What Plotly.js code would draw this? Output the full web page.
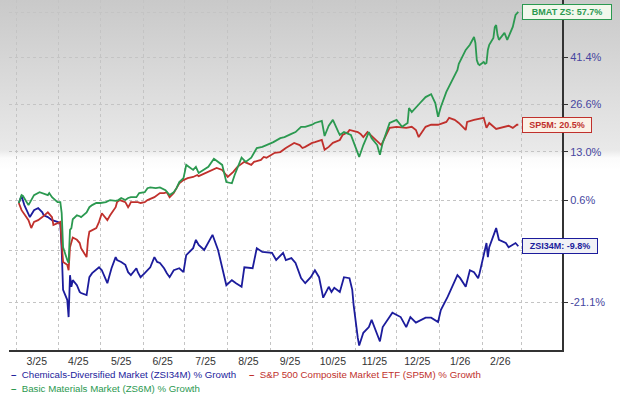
<!DOCTYPE html>
<html>
<head>
<meta charset="utf-8">
<script src="https://cdn.plot.ly/plotly-3.0.1.min.js"></script>
<style>
  html, body { margin: 0; padding: 0; background: #ffffff; }
  #chart {
    width: 620px; height: 397px;
    background: linear-gradient(to bottom, #c9c9c9 0px, #e9e9e9 150px, #fbfbfb 158px, #ffffff 170px);
  }
</style>
</head>
<body>
<div id="chart"></div>
<script>
// ---------------- data (percent growth) ----------------
const seriesNames = [
  'Chemicals-Diversified Market (ZSI34M) % Growth',
  'S&P 500 Composite Market ETF (SP5M) % Growth',
  'Basic Materials Market (ZS6M) % Growth'
];
const endLabels = ['ZSI34M: -9.8%', 'SP5M: 20.5%', 'BMAT ZS: 57.7%'];

const chemDates = ['2025-03-03','2025-03-05','2025-03-07','2025-03-11','2025-03-14','2025-03-17','2025-03-20','2025-03-21','2025-03-24','2025-03-27','2025-03-31','2025-04-02','2025-04-03','2025-04-04','2025-04-07','2025-04-08','2025-04-09','2025-04-10','2025-04-11','2025-04-14','2025-04-16','2025-04-17','2025-04-21','2025-04-22','2025-04-23','2025-04-25','2025-04-30','2025-05-02','2025-05-05','2025-05-06','2025-05-09','2025-05-12','2025-05-13','2025-05-16','2025-05-19','2025-05-21','2025-05-23','2025-05-27','2025-05-28','2025-05-30','2025-06-02','2025-06-04','2025-06-06','2025-06-09','2025-06-11','2025-06-13','2025-06-16','2025-06-18','2025-06-20','2025-06-23','2025-06-27','2025-06-30','2025-07-02','2025-07-07','2025-07-09','2025-07-11','2025-07-15','2025-07-21','2025-07-24','2025-07-25','2025-07-31','2025-08-04','2025-08-07','2025-08-11','2025-08-13','2025-08-19','2025-08-22','2025-08-26','2025-09-02','2025-09-05','2025-09-10','2025-09-12','2025-09-16','2025-09-19','2025-09-23','2025-09-26','2025-09-30','2025-10-03','2025-10-06','2025-10-09','2025-10-13','2025-10-15','2025-10-17','2025-10-21','2025-10-24','2025-10-28','2025-10-30','2025-10-31','2025-11-03','2025-11-04','2025-11-07','2025-11-11','2025-11-13','2025-11-17','2025-11-19','2025-11-21','2025-11-26','2025-11-28','2025-12-04','2025-12-08','2025-12-11','2025-12-15','2025-12-22','2025-12-26','2025-12-31','2026-01-02','2026-01-07','2026-01-12','2026-01-14','2026-01-16','2026-01-20','2026-01-23','2026-01-26','2026-01-29','2026-01-30','2026-02-04','2026-02-05','2026-02-06','2026-02-11','2026-02-13','2026-02-18','2026-02-20','2026-02-25','2026-02-27'];
const chemGrowth = [0.0,1.7,-0.5,-3.3,-1.7,-1.2,-2.2,-2.9,-3.3,-4.0,-4.4,-4.7,-10.6,-18.7,-20.6,-23.8,-15.8,-18.1,-16.8,-17.8,-19.1,-19.3,-19.7,-18.1,-16.2,-15.4,-14.2,-14.8,-16.8,-17.4,-14.4,-12.1,-12.7,-13.1,-13.7,-15.2,-15.8,-14.4,-15.2,-16.2,-15.4,-14.8,-14.2,-12.1,-13.1,-13.3,-14.4,-15.4,-16.2,-14.8,-14.4,-15.2,-11.7,-10.2,-8.4,-9.5,-10.6,-7.3,-9.5,-10.6,-17.8,-16.8,-17.4,-18.1,-14.2,-14.4,-10.2,-11.0,-11.2,-12.7,-11.2,-12.7,-12.3,-13.3,-16.4,-17.4,-16.2,-14.8,-16.2,-20.2,-18.1,-19.1,-18.3,-19.1,-16.2,-16.4,-18.7,-21.6,-27.5,-28.8,-26.6,-25.6,-24.3,-27.0,-28.1,-25.6,-23.8,-23.0,-23.8,-25.6,-23.8,-24.8,-23.9,-23.9,-24.7,-22.5,-20.0,-16.8,-15.8,-16.4,-18.1,-14.8,-15.2,-16.4,-15.4,-9.1,-12.1,-10.0,-5.8,-8.4,-9.1,-10.0,-9.1,-9.8];

const spDates = ['2025-03-03','2025-03-05','2025-03-10','2025-03-12','2025-03-14','2025-03-17','2025-03-20','2025-03-24','2025-03-27','2025-03-28','2025-03-31','2025-04-02','2025-04-03','2025-04-04','2025-04-07','2025-04-08','2025-04-09','2025-04-10','2025-04-11','2025-04-14','2025-04-16','2025-04-17','2025-04-21','2025-04-22','2025-04-23','2025-04-28','2025-04-30','2025-05-02','2025-05-06','2025-05-08','2025-05-12','2025-05-13','2025-05-15','2025-05-19','2025-05-21','2025-05-22','2025-05-23','2025-05-28','2025-05-30','2025-06-02','2025-06-04','2025-06-09','2025-06-11','2025-06-13','2025-06-16','2025-06-18','2025-06-20','2025-06-23','2025-06-25','2025-06-27','2025-06-30','2025-07-03','2025-07-07','2025-07-10','2025-07-11','2025-07-18','2025-07-24','2025-07-28','2025-08-01','2025-08-05','2025-08-08','2025-08-13','2025-08-18','2025-08-20','2025-08-25','2025-08-27','2025-08-29','2025-09-04','2025-09-08','2025-09-12','2025-09-18','2025-09-22','2025-09-24','2025-09-26','2025-10-01','2025-10-03','2025-10-08','2025-10-10','2025-10-13','2025-10-16','2025-10-21','2025-10-23','2025-10-27','2025-10-28','2025-11-03','2025-11-05','2025-11-07','2025-11-10','2025-11-13','2025-11-17','2025-11-20','2025-11-21','2025-11-26','2025-12-01','2025-12-08','2025-12-12','2025-12-15','2025-12-17','2025-12-22','2025-12-26','2025-12-31','2026-01-06','2026-01-08','2026-01-12','2026-01-15','2026-01-20','2026-01-21','2026-01-26','2026-01-29','2026-02-02','2026-02-04','2026-02-06','2026-02-11','2026-02-17','2026-02-20','2026-02-23','2026-02-26','2026-02-27'];
const spGrowth = [0.0,-1.7,-4.0,-5.8,-4.4,-4.0,-3.3,-2.2,-3.3,-5.1,-4.7,-4.4,-9.1,-13.1,-13.7,-14.8,-10.0,-8.8,-7.9,-8.4,-9.1,-10.2,-12.1,-8.4,-6.6,-5.8,-4.4,-2.4,-4.0,-2.9,-1.0,0.2,0.7,0.2,-1.0,-0.5,0.2,0.2,0.0,0.2,0.7,1.4,1.9,2.4,2.4,2.6,1.4,2.4,3.6,4.8,5.6,6.1,6.4,6.9,6.6,7.7,8.7,8.2,6.4,7.7,9.0,10.3,9.5,10.3,10.8,11.6,11.4,12.7,12.9,14.0,15.4,14.8,14.0,14.3,15.4,15.6,16.2,13.5,14.3,15.4,16.2,17.6,18.4,19.0,18.4,17.9,17.0,18.4,17.3,15.6,14.8,15.6,19.6,19.9,19.6,19.9,19.0,17.0,19.9,20.5,20.5,21.3,22.5,21.9,21.0,19.0,21.3,21.9,22.2,22.5,19.6,21.0,19.3,19.9,20.2,19.6,20.5,20.5];

const matDates = ['2025-03-03','2025-03-05','2025-03-06','2025-03-10','2025-03-12','2025-03-14','2025-03-18','2025-03-20','2025-03-24','2025-03-25','2025-03-27','2025-03-31','2025-04-02','2025-04-03','2025-04-04','2025-04-07','2025-04-08','2025-04-09','2025-04-10','2025-04-11','2025-04-14','2025-04-16','2025-04-17','2025-04-21','2025-04-23','2025-04-25','2025-04-28','2025-05-01','2025-05-05','2025-05-08','2025-05-12','2025-05-14','2025-05-16','2025-05-19','2025-05-21','2025-05-23','2025-05-27','2025-05-29','2025-06-02','2025-06-04','2025-06-06','2025-06-10','2025-06-13','2025-06-17','2025-06-20','2025-06-23','2025-06-25','2025-06-27','2025-06-30','2025-07-01','2025-07-02','2025-07-07','2025-07-09','2025-07-11','2025-07-15','2025-07-18','2025-07-22','2025-07-28','2025-07-31','2025-08-04','2025-08-06','2025-08-11','2025-08-14','2025-08-18','2025-08-22','2025-08-26','2025-08-29','2025-09-03','2025-09-08','2025-09-11','2025-09-16','2025-09-19','2025-09-23','2025-09-26','2025-10-01','2025-10-03','2025-10-08','2025-10-10','2025-10-13','2025-10-16','2025-10-20','2025-10-21','2025-10-24','2025-10-29','2025-10-31','2025-11-04','2025-11-07','2025-11-11','2025-11-13','2025-11-17','2025-11-19','2025-11-21','2025-11-26','2025-12-01','2025-12-05','2025-12-09','2025-12-10','2025-12-12','2025-12-18','2025-12-22','2025-12-26','2025-12-29','2025-12-31','2026-01-02','2026-01-06','2026-01-09','2026-01-12','2026-01-14','2026-01-15','2026-01-20','2026-01-23','2026-01-26','2026-01-27','2026-01-28','2026-01-29','2026-01-30','2026-02-02','2026-02-03','2026-02-04','2026-02-05','2026-02-06','2026-02-09','2026-02-10','2026-02-11','2026-02-12','2026-02-13','2026-02-17','2026-02-19','2026-02-23','2026-02-25','2026-02-27'];
const matGrowth = [0.0,1.9,1.7,-0.5,0.7,1.9,2.6,2.4,1.9,2.4,1.4,0.2,0.2,-2.4,-10.0,-12.7,-13.3,-6.2,-5.8,-3.8,-2.9,-3.1,-3.3,-2.2,-1.0,-0.5,0.0,0.0,0.2,0.7,0.5,0.7,1.2,0.7,1.2,1.4,1.4,2.4,2.6,3.6,3.8,3.6,3.8,3.1,1.9,2.6,3.6,5.1,6.1,7.7,9.5,8.2,9.0,7.4,8.2,9.0,11.1,9.5,5.1,4.8,6.9,11.4,10.3,11.4,14.0,14.3,14.8,15.6,16.7,17.0,17.9,18.4,19.9,19.9,20.5,21.0,21.6,17.3,20.2,21.9,18.4,17.6,18.4,17.6,15.6,11.6,14.8,18.4,16.7,14.8,12.2,15.4,21.0,21.9,19.9,21.0,25.4,24.2,26.9,28.7,29.6,26.9,22.8,25.7,30.3,32.8,35.1,37.3,39.3,44.0,45.8,48.5,46.4,40.6,39.3,38.9,39.9,39.3,39.6,44.0,45.8,48.2,52.1,52.8,49.2,47.5,50.0,47.5,52.1,56.5,57.7];

const monthStarts = ['2025-03-01','2025-04-01','2025-05-01','2025-06-01','2025-07-01','2025-08-01','2025-09-01','2025-10-01','2025-11-01','2025-12-01','2026-01-01','2026-02-01','2026-03-01'];
const monthLabelDates = ['2025-03-16','2025-04-15','2025-05-16','2025-06-15','2025-07-16','2025-08-16','2025-09-15','2025-10-16','2025-11-15','2025-12-16','2026-01-16','2026-02-14'];
const monthLabels = ['3/25','4/25','5/25','6/25','7/25','8/25','9/25','10/25','11/25','12/25','1/26','2/26'];
const yTickGrowth = [57.4, 41.4, 26.6, 13.0, 0.6, -10.6, -21.1];
const yTickLabels = ['', '41.4%', '26.6%', '13.0%', '0.6%', '', '-21.1%'];

// ---------------- styling ----------------
const colors = ['#1c1c9c', '#c0302c', '#2b9950'];
const labelFills = ['#f1f1f6', '#fbf1e6', '#f2f8ec'];
const labelWidths = [72, 66, 86];
const FONT = 'Liberation Sans, Arial, sans-serif';
const ratio = v => 1 + v / 100;

const seriesX = [chemDates, spDates, matDates];
const seriesY = [chemGrowth, spGrowth, matGrowth];

const traces = seriesX.map((xs, i) => ({
  type: 'scatter', mode: 'lines',
  x: xs, y: seriesY[i].map(ratio),
  name: seriesNames[i],
  line: { color: colors[i], width: 1.8 },
  hoverinfo: 'skip', showlegend: false
}));

const annotations = [];
// end-value tags
seriesX.forEach((xs, i) => {
  const last = seriesY[i][seriesY[i].length - 1];
  annotations.push({
    x: xs[xs.length - 1], y: Math.log10(ratio(last)), xref: 'x', yref: 'y',
    text: '<b>' + endLabels[i] + '</b>', showarrow: false,
    xanchor: 'left', yanchor: 'middle', xshift: 4,
    width: labelWidths[i], height: 12, align: 'center',
    font: { family: FONT, size: 9, color: colors[i] },
    bgcolor: labelFills[i], bordercolor: colors[i], borderwidth: 1, borderpad: 1
  });
});
// legend (custom)
const legendPos = [[0.0, -0.0714], [0.4304, -0.0714], [0.0, -0.1086]];
seriesNames.forEach((n, i) => {
  annotations.push({
    xref: 'paper', yref: 'paper', x: legendPos[i][0], y: legendPos[i][1],
    xanchor: 'left', yanchor: 'middle', showarrow: false,
    text: '<b>\u2013</b>\u00a0\u00a0' + n.replace('&', '&amp;'),
    font: { family: FONT, size: 9.7, color: colors[i] }
  });
});

const layout = {
  width: 620, height: 397,
  margin: { l: 9, r: 58, t: 0, b: 47, pad: 0 },
  paper_bgcolor: 'rgba(0,0,0,0)', plot_bgcolor: 'rgba(0,0,0,0)',
  showlegend: false,
  xaxis: {
    type: 'date',
    range: ['2025-02-23 22:00', '2026-03-30 14:00'],
    tickmode: 'array', tickvals: monthLabelDates, ticktext: monthLabels,
    ticks: '', showgrid: false, zeroline: false,
    showline: true, linecolor: '#333333', linewidth: 2,
    tickfont: { family: FONT, size: 10.5, color: '#333333' },
    minor: { tickmode: 'array', tickvals: monthStarts, showgrid: true,
             gridcolor: '#c4c4c4', griddash: 'dot', gridwidth: 1, ticks: '' },
    fixedrange: true
  },
  yaxis: {
    type: 'log', side: 'right',
    range: [-0.15212, 0.21005],
    tickmode: 'array', tickvals: yTickGrowth.map(ratio), ticktext: yTickLabels,
    ticks: 'outside', ticklen: 4, tickcolor: '#333333', tickwidth: 1,
    showgrid: true, gridcolor: '#c4c4c4', griddash: 'dot', gridwidth: 1,
    zeroline: false,
    showline: true, linecolor: '#333333', linewidth: 2,
    tickfont: { family: FONT, size: 11, color: '#4646a0' },
    fixedrange: true
  },
  annotations: annotations
};

Plotly.newPlot('chart', traces, layout, { displayModeBar: false, staticPlot: true });
</script>
</body>
</html>
